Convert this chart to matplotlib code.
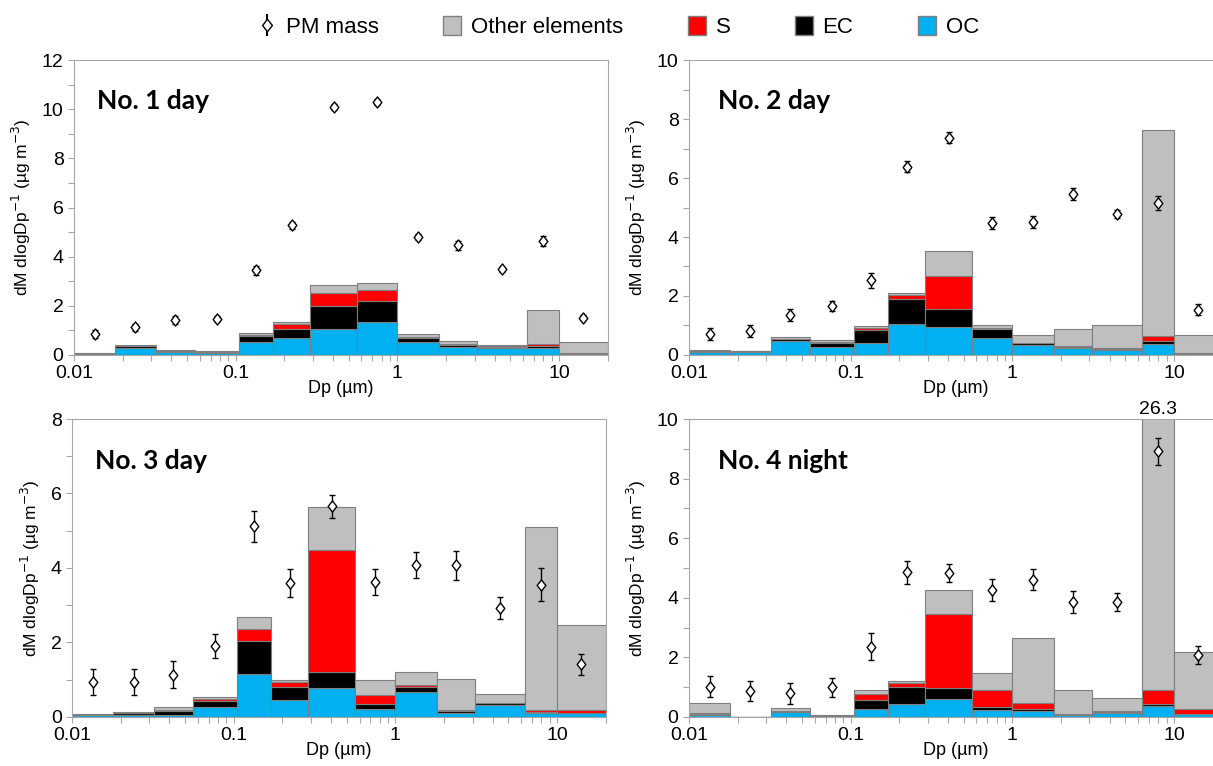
import numpy as np
import matplotlib
matplotlib.use("Agg")
import matplotlib.pyplot as plt
from matplotlib.patches import Patch
from matplotlib.path import Path
from matplotlib.ticker import MultipleLocator, FixedLocator, NullFormatter

plt.rcParams.update({
    "font.family": ["Liberation Sans", "DejaVu Sans"],
    "font.size": 13,
    "axes.edgecolor": "#a6a6a6",
    "xtick.color": "#a6a6a6", "ytick.color": "#a6a6a6",
    "xtick.labelcolor": "black", "ytick.labelcolor": "black",
})

# impactor stage edges (um)
edges = [0.01, 0.018, 0.032, 0.056, 0.105, 0.17, 0.29, 0.56, 1.0, 1.8, 3.1, 6.3, 10, 20]

titles = ["No. 1 day", "No. 2 day", "No. 3 day", "No. 4 night"]
ymax = [12, 10, 8, 10]

# No. 1 day
oc_1 = [0.04, 0.30, 0.11, 0.08, 0.51, 0.71, 1.05, 1.35, 0.54, 0.31, 0.27, 0.30, 0.05]
ec_1 = [0.01, 0.06, 0.06, 0.05, 0.26, 0.36, 0.95, 0.85, 0.17, 0.10, 0.07, 0.06, 0.04]
s_1 = [0.00, 0.01, 0.01, 0.01, 0.05, 0.18, 0.53, 0.43, 0.03, 0.02, 0.01, 0.07, 0.01]
oth_1 = [0.05, 0.03, 0.02, 0.02, 0.08, 0.11, 0.30, 0.31, 0.10, 0.12, 0.05, 1.38, 0.44]
pm_1 = [0.85, 1.12, 1.43, 1.48, 3.44, 5.27, 10.09, 10.29, 4.80, 4.46, 3.48, 4.65, 1.52]
err_1 = [0.15, 0.15, 0.15, 0.12, 0.2, 0.15, 0.12, 0.12, 0.12, 0.18, 0.1, 0.2, 0.1]

# No. 2 day
oc_2 = [0.11, 0.10, 0.46, 0.27, 0.42, 1.04, 0.95, 0.56, 0.33, 0.22, 0.16, 0.37, 0.03]
ec_2 = [0.02, 0.03, 0.08, 0.15, 0.44, 0.87, 0.62, 0.31, 0.06, 0.04, 0.04, 0.10, 0.02]
s_2 = [0.00, 0.00, 0.01, 0.02, 0.04, 0.11, 1.12, 0.03, 0.02, 0.03, 0.02, 0.17, 0.03]
oth_2 = [0.05, 0.02, 0.07, 0.06, 0.07, 0.07, 0.84, 0.11, 0.28, 0.58, 0.81, 7.00, 0.61]
pm_2 = [0.71, 0.80, 1.36, 1.66, 2.53, 6.39, 7.37, 4.48, 4.51, 5.47, 4.78, 5.15, 1.54]
err_2 = [0.2, 0.2, 0.2, 0.18, 0.25, 0.2, 0.18, 0.2, 0.2, 0.2, 0.15, 0.25, 0.18]

# No. 3 day
oc_3 = [0.05, 0.04, 0.06, 0.26, 1.15, 0.45, 0.78, 0.21, 0.67, 0.11, 0.32, 0.11, 0.11]
ec_3 = [0.01, 0.08, 0.09, 0.16, 0.89, 0.35, 0.43, 0.15, 0.14, 0.05, 0.05, 0.03, 0.01]
s_3 = [0.00, 0.00, 0.05, 0.05, 0.32, 0.13, 3.26, 0.24, 0.04, 0.04, 0.01, 0.05, 0.07]
oth_3 = [0.03, 0.01, 0.07, 0.06, 0.32, 0.07, 1.18, 0.38, 0.37, 0.83, 0.25, 4.90, 2.29]
pm_3 = [0.94, 0.94, 1.14, 1.90, 5.12, 3.59, 5.66, 3.63, 4.07, 4.07, 2.92, 3.55, 1.41]
err_3 = [0.35, 0.35, 0.35, 0.33, 0.41, 0.38, 0.31, 0.35, 0.35, 0.38, 0.29, 0.44, 0.29]

# No. 4 night
oc_4 = [0.08, 0.00, 0.16, 0.01, 0.28, 0.44, 0.62, 0.24, 0.21, 0.05, 0.15, 0.36, 0.09]
ec_4 = [0.02, 0.00, 0.03, 0.00, 0.28, 0.58, 0.36, 0.10, 0.07, 0.03, 0.03, 0.07, 0.01]
s_4 = [0.03, 0.00, 0.02, 0.03, 0.20, 0.13, 2.48, 0.57, 0.20, 0.03, 0.01, 0.46, 0.17]
oth_4 = [0.33, 0.00, 0.08, 0.01, 0.14, 0.06, 0.81, 0.55, 2.16, 0.79, 0.46, 25.41, 1.90]
pm_4 = [1.02, 0.87, 0.80, 0.99, 2.36, 4.85, 4.84, 4.26, 4.61, 3.85, 3.85, 8.91, 2.07]
err_4 = [0.35, 0.35, 0.35, 0.33, 0.45, 0.4, 0.3, 0.37, 0.35, 0.37, 0.3, 0.45, 0.3]

panels = [
    (oc_1, ec_1, s_1, oth_1, pm_1, err_1),
    (oc_2, ec_2, s_2, oth_2, pm_2, err_2),
    (oc_3, ec_3, s_3, oth_3, pm_3, err_3),
    (oc_4, ec_4, s_4, oth_4, pm_4, err_4),
]

BLUE, BLACK, RED, GRAY = "#00b0f0", "#000000", "#ff0000", "#bfbfbf"
EDGE = "#7f7f7f"
# slightly narrow diamond, like the Excel marker
DIAMOND = Path([(0, 1), (0.78, 0), (0, -1), (-0.78, 0), (0, 1)],
               [Path.MOVETO, Path.LINETO, Path.LINETO, Path.LINETO, Path.CLOSEPOLY])

fig = plt.figure(figsize=(12.13, 7.66), dpi=100)
# axes boxes in figure fraction; right column runs past the figure edge (cropped original)
boxes = [
    (0.061, 0.5366, 0.440, 0.385),
    (0.568, 0.5366, 0.440, 0.385),
    (0.0594, 0.064, 0.440, 0.389),
    (0.568, 0.064, 0.440, 0.389),
]

left = np.array(edges[:-1])
width = np.diff(edges)
mid = np.sqrt(left * np.array(edges[1:]))

for i, (oc, ec, s, oth, pm, err) in enumerate(panels):
    ax = fig.add_axes(boxes[i])
    bottom = np.zeros(len(left))
    for vals, col in [(oc, BLUE), (ec, BLACK), (s, RED), (oth, GRAY)]:
        v = np.array(vals)
        ax.bar(left, v, width=width, bottom=bottom, align="edge", color=col,
               edgecolor=EDGE, linewidth=0.8, zorder=2)
        bottom = bottom + v
    ax.errorbar(mid, pm, yerr=err, fmt="none", ecolor="black", elinewidth=1.0,
                capsize=2.5, zorder=4)
    ax.plot(mid, pm, ls="none", marker=DIAMOND, ms=8, mfc="white", mec="black",
            mew=1.0, zorder=5)
    # totals that run off the top get their value written above the axis
    for x, tot in zip(mid, bottom):
        if tot > ymax[i]:
            ax.text(x, ymax[i] + 0.03, f"{tot:.1f}", ha="center", va="bottom", fontsize=14)

    ax.set_xscale("log")
    ax.set_xlim(0.01, 20)
    ax.set_ylim(0, ymax[i])
    ax.xaxis.set_major_locator(FixedLocator([0.01, 0.1, 1, 10]))
    ax.set_xticklabels(["0.01", "0.1", "1", "10"])
    ax.xaxis.set_minor_formatter(NullFormatter())
    ax.yaxis.set_major_locator(MultipleLocator(2))
    ax.yaxis.set_minor_locator(MultipleLocator(1))
    ax.tick_params(which="both", direction="out", length=4, width=0.8, labelsize=14)
    ax.tick_params(axis="x", which="major", pad=3)
    ax.set_xlabel("Dp (µm)", fontsize=13, labelpad=-1)
    ax.set_ylabel("dM dlogDp$^{-1}$ (µg m$^{-3}$)", fontsize=12.5, labelpad=6)
    tx = 0.043 if i in (0, 2) else 0.054
    ax.text(tx, 0.86, titles[i], transform=ax.transAxes, fontsize=19,
            fontweight="bold", family=["Lato", "DejaVu Sans"], va="center", ha="left")

# legend
eb = fig.axes[0].errorbar([], [], yerr=[], fmt="none", ecolor="black", capsize=3)
mk = plt.Line2D([], [], ls="none", marker=DIAMOND, ms=9, mfc="white", mec="black")
handles = [(eb, mk),
           Patch(facecolor=GRAY, edgecolor=EDGE),
           Patch(facecolor=RED, edgecolor=EDGE),
           Patch(facecolor=BLACK, edgecolor=EDGE),
           Patch(facecolor=BLUE, edgecolor=EDGE)]
labels = ["PM mass", "Other elements", "S", "EC", "OC"]
fig.legend(handles, labels, loc="upper center", bbox_to_anchor=(0.51, 1.005), ncol=5,
           frameon=False, fontsize=16, handlelength=0.8, handleheight=0.9,
           handletextpad=0.45, columnspacing=2.9)

fig.savefig("out.png", dpi=100)
